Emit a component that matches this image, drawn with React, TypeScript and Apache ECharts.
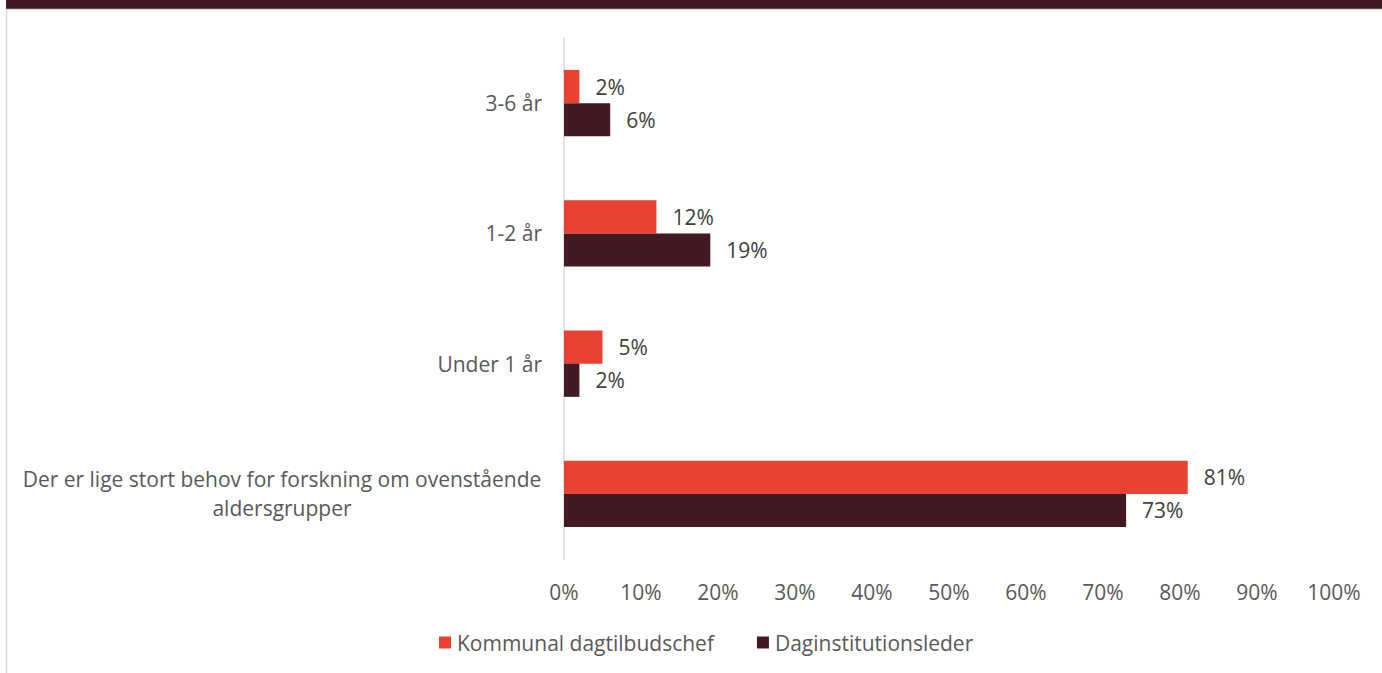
import React, { useEffect, useRef } from "react";
import * as echarts from "echarts";

const categories = [
  "Der er lige stort behov for forskning om ovenstående aldersgrupper",
  "Under 1 år",
  "1-2 år",
  "3-6 år",
];
const seriesNames = ["Kommunal dagtilbudschef", "Daginstitutionsleder"];
const kommunal = [81, 5, 12, 2];
const daginst = [73, 2, 19, 6];
const xTicks = [0, 10, 20, 30, 40, 50, 60, 70, 80, 90, 100];

const RED = "#E84233";
const DARK = "#431A22";
const FONT = "Open Sans";
const FS = 21;

export default function App() {
  const ref = useRef<HTMLDivElement>(null);
  useEffect(() => {
    if (!ref.current) return;
    const chart = echarts.init(ref.current, null, { renderer: "svg" });
    const labelStyle = {
      show: true,
      position: "right",
      distance: 16,
      formatter: "{c}%",
      color: "#404040",
      fontFamily: FONT,
      fontSize: FS,
    };
    chart.setOption({
      animation: false,
      textStyle: { fontFamily: FONT },
      graphic: [
        { type: "rect", shape: { x: 6, y: 0, width: 1376, height: 9 }, style: { fill: DARK } },
        { type: "line", shape: { x1: 6, y1: 9.5, x2: 1382, y2: 9.5 }, style: { stroke: "#D9D9D9", lineWidth: 1.5 } },
        { type: "line", shape: { x1: 6.5, y1: 9, x2: 6.5, y2: 673 }, style: { stroke: "#D9D9D9", lineWidth: 1.5 } },
      ],
      grid: { left: 564, right: 48, top: 38, bottom: 114, containLabel: false },
      xAxis: {
        type: "value",
        min: xTicks[0],
        max: xTicks[xTicks.length - 1],
        interval: 10,
        splitLine: { show: false },
        axisLine: { show: false },
        axisTick: { show: false },
        axisLabel: {
          formatter: "{value}%",
          color: "#595959",
          fontFamily: FONT,
          fontSize: FS,
          margin: 22,
        },
      },
      yAxis: {
        type: "category",
        data: categories,
        axisTick: { show: false },
        axisLine: { show: true, lineStyle: { color: "#D9D9D9", width: 1.5 } },
        axisLabel: {
          color: "#595959",
          fontFamily: FONT,
          fontSize: FS,
          margin: 22,
          align: "right",
          formatter: (v: string) => {
            if (v.length > 40) {
              const idx = v.lastIndexOf(" ");
              return "{c|" + v.slice(0, idx) + "}\n{c|" + v.slice(idx + 1) + "}";
            }
            return v;
          },
          rich: {
            c: {
              width: 520,
              align: "center",
              color: "#595959",
              fontFamily: FONT,
              fontSize: FS,
              lineHeight: 29,
            },
          },
        },
      },
      legend: {
        data: seriesNames,
        bottom: 15,
        left: 434,
        icon: "rect",
        itemWidth: 12,
        itemHeight: 12,
        itemGap: 43,
        textStyle: { color: "#595959", fontFamily: FONT, fontSize: FS, padding: [0, 0, 0, 1] },
      },
      series: [
        {
          name: seriesNames[0],
          type: "bar",
          data: kommunal,
          itemStyle: { color: RED },
          barGap: "0%",
          barCategoryGap: "49%",
          label: labelStyle,
        },
        {
          name: seriesNames[1],
          type: "bar",
          data: daginst,
          itemStyle: { color: DARK },
          barGap: "0%",
          barCategoryGap: "49%",
          label: labelStyle,
        },
      ],
    });
    return () => chart.dispose();
  }, []);
  return (
    <div
      ref={ref}
      style={{ position: "absolute", left: 0, top: 0, width: 1382, height: 673, background: "#fff" }}
    />
  );
}
